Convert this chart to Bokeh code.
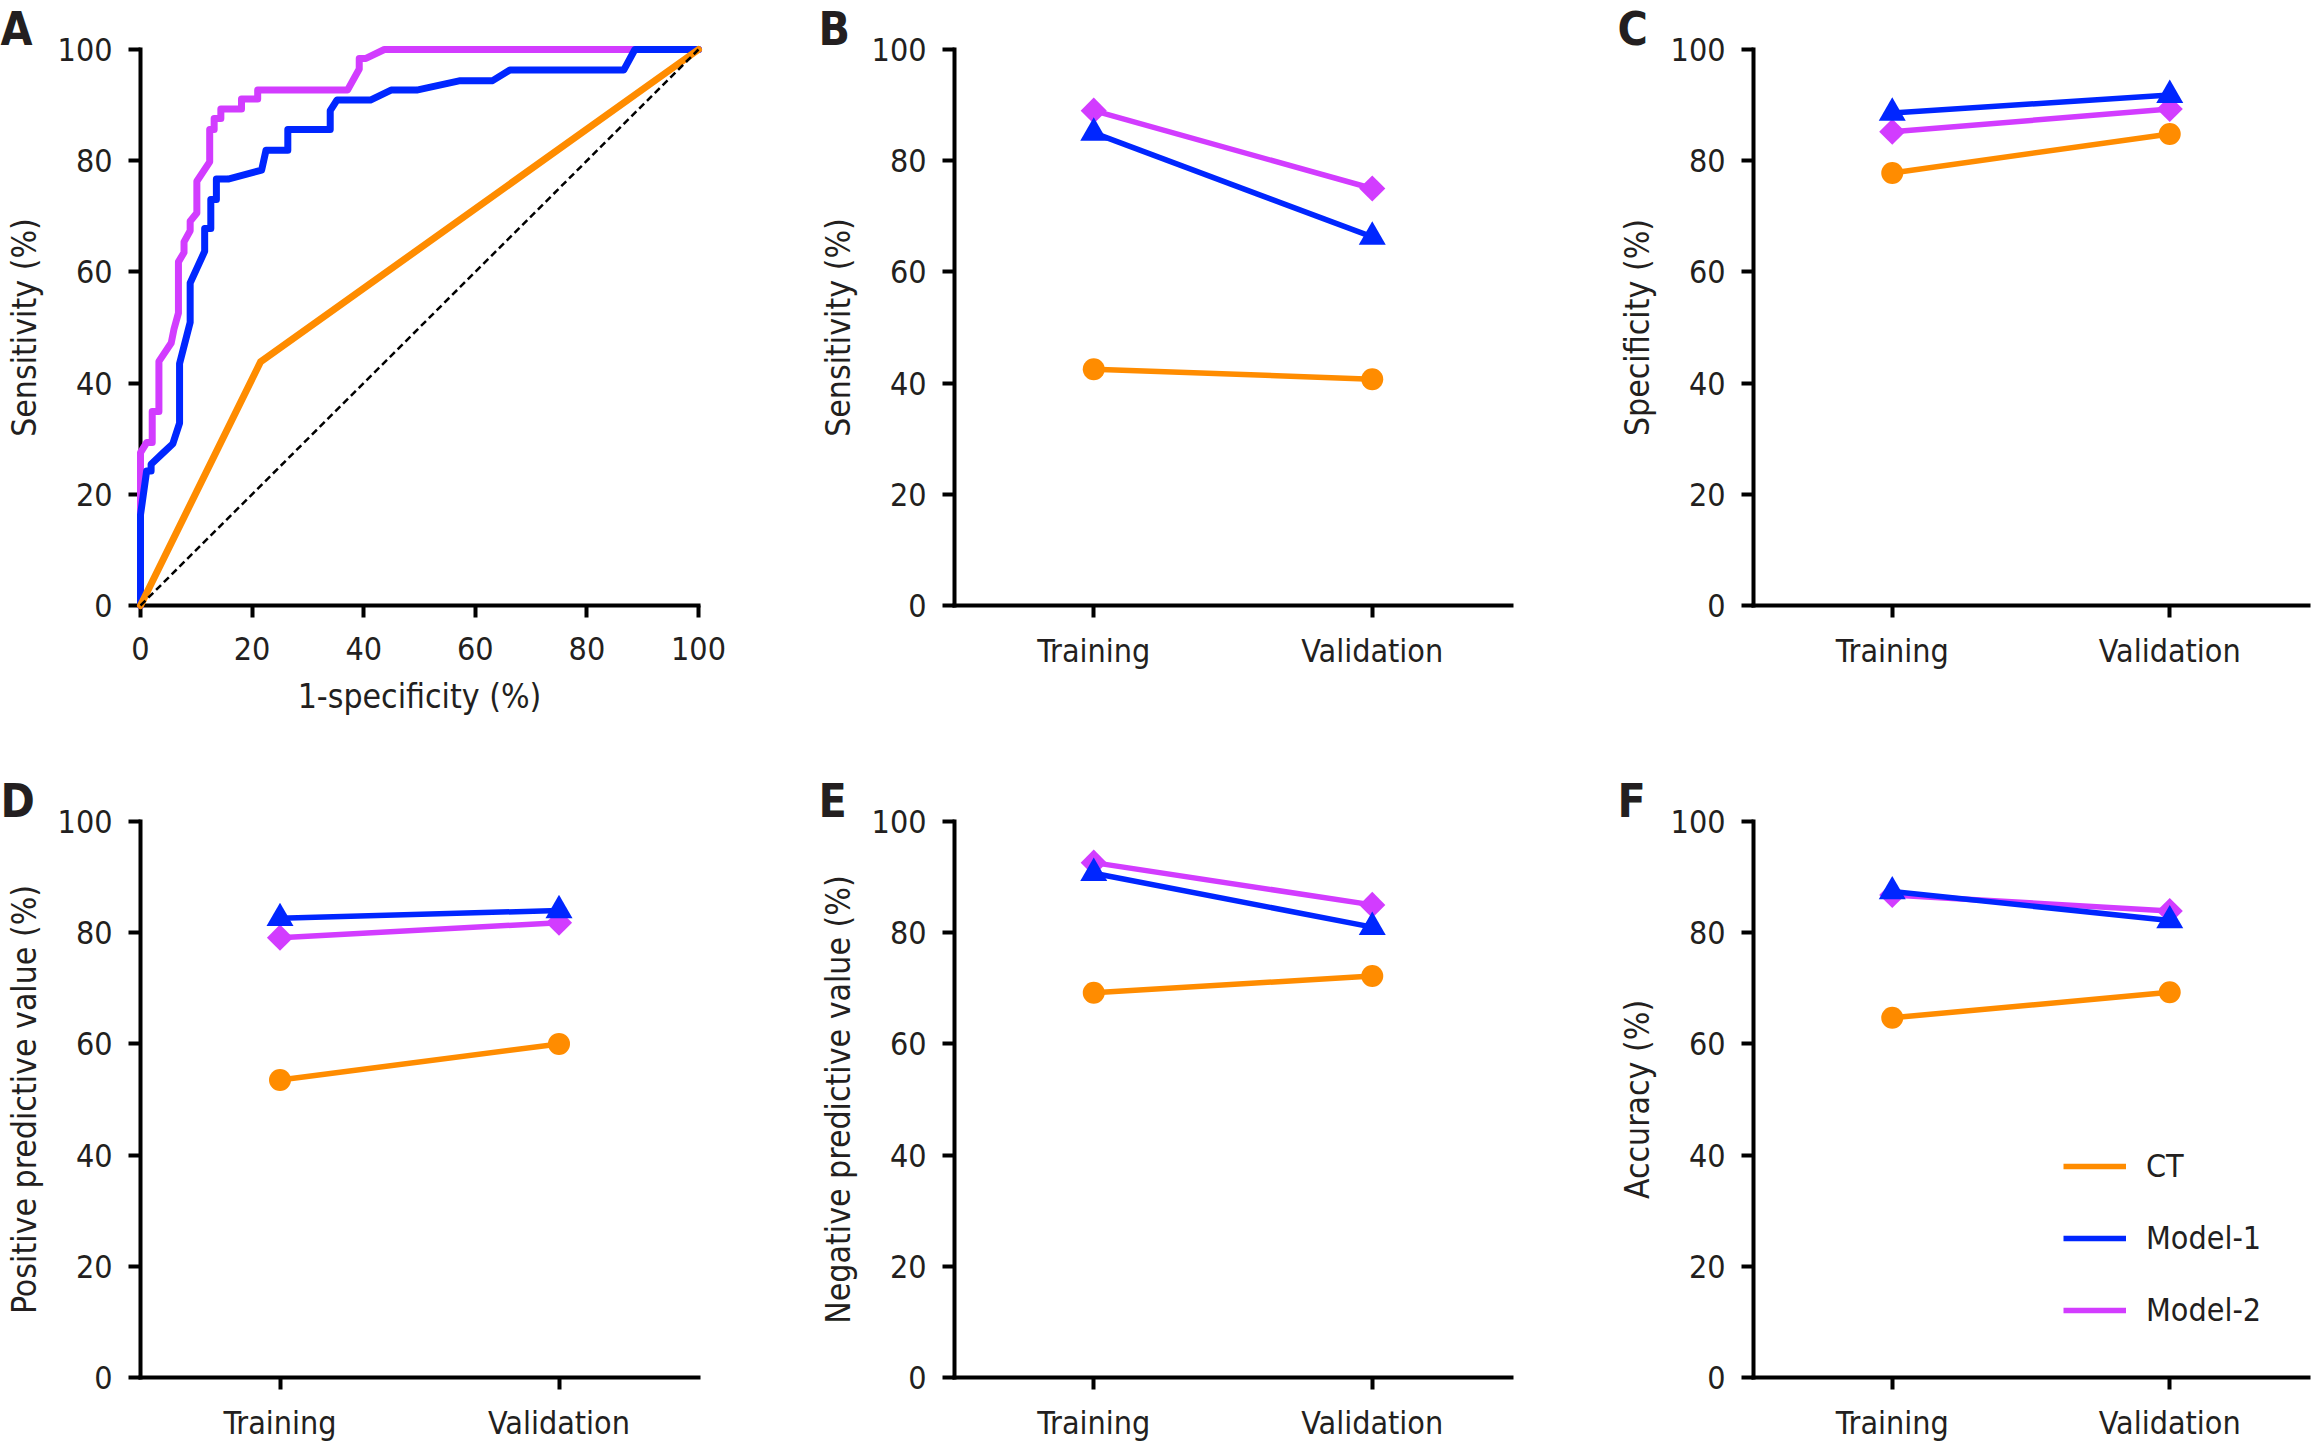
from bokeh.plotting import figure
from bokeh.layouts import column, row
from bokeh.models import Range1d, FixedTicker, Legend, LegendItem
from bokeh.core.properties import value
from bokeh.embed import file_html
from bokeh.resources import INLINE

# ---------------- data ----------------
groups = ["Training", "Validation"]
series = ["CT", "Model-1", "Model-2"]
panel_tags = ["A", "B", "C", "D", "E", "F"]
y_ticks = [0, 20, 40, 60, 80, 100]
roc_ticks = [0, 20, 40, 60, 80, 100]

# ROC curves (1-specificity %, sensitivity %)
roc_ct_fpr = [0, 21.5, 100]
roc_ct_tpr = [0, 43.8, 100]

roc_m1_fpr = [0, 0, 1.1, 1.9, 1.9, 4.1, 5.8, 7.0, 7.0, 8.9, 8.9, 11.5, 11.5, 12.6, 12.6,
              13.6, 13.6, 15.7, 21.7, 22.5, 26.4, 26.4, 34.0, 34.0, 35.2, 41.2, 44.9,
              49.5, 57.3, 63.1, 66.2, 86.6, 88.6, 100]
roc_m1_tpr = [0, 16.3, 24.2, 24.2, 25.4, 27.5, 29.1, 32.8, 43.5, 50.9, 58.0, 63.7, 67.8,
              67.8, 73.0, 73.0, 76.7, 76.7, 78.3, 81.9, 81.9, 85.6, 85.6, 89.0, 90.9,
              90.9, 92.7, 92.7, 94.4, 94.4, 96.3, 96.3, 100, 100]

roc_m2_fpr = [0, 0, 1.1, 2.1, 2.1, 3.3, 3.3, 5.5, 6.0, 6.8, 6.8, 7.8, 7.8, 8.9, 8.9, 10.1,
              10.1, 12.4, 12.4, 13.2, 13.2, 14.4, 14.4, 18.1, 18.1, 21.0, 21.0, 37.1,
              39.2, 39.2, 40.4, 43.7, 100]
roc_m2_tpr = [0, 27.5, 29.3, 29.3, 34.9, 34.9, 43.9, 47.2, 49.7, 52.6, 61.8, 63.5, 65.4,
              67.4, 69.1, 70.6, 76.3, 79.8, 85.6, 85.6, 87.6, 87.6, 89.3, 89.3, 91.1,
              91.1, 92.7, 92.7, 96.5, 98.4, 98.4, 100, 100]

# Diagnostic metrics (%) for Training / Validation
sens_ct = [42.5, 40.7]
sens_m1 = [85.0, 66.3]
sens_m2 = [89.0, 75.0]

spec_ct = [77.8, 84.8]
spec_m1 = [88.6, 91.8]
spec_m2 = [85.2, 89.3]

ppv_ct = [53.5, 60.0]
ppv_m1 = [82.6, 84.0]
ppv_m2 = [79.1, 81.8]

npv_ct = [69.2, 72.2]
npv_m1 = [90.7, 81.0]
npv_m2 = [92.6, 85.0]

acc_ct = [64.7, 69.3]
acc_m1 = [87.4, 82.2]
acc_m2 = [86.8, 83.9]

# ---------------- style ----------------
FONT = "DejaVu Sans Condensed"
INK = "#231f20"
C_CT = "#ff8c00"
C_M1 = "#0026ff"
C_M2 = "#d23cff"
FS = "32px"
FS_LABEL = "33.5px"

# (canvas width, left border, right border) per column
COLS = [(780, 140, 82), (800, 174, 69), (735, 173, 7)]
# (canvas height, top border, bottom border) per row
ROWS = [(723, 49, 118), (723, 98, 69)]


def make_fig(ci, ri, **kw):
    w, bl, br = COLS[ci]
    h, bt, bb = ROWS[ri]
    p = figure(width=w, height=h, min_border_left=bl, min_border_right=br,
               min_border_top=bt, min_border_bottom=bb, output_backend="svg",
               toolbar_location=None, **kw)
    p.outline_line_color = None
    p.grid.visible = False
    p.background_fill_color = "white"
    p.border_fill_color = "white"
    for ax in p.axis:
        ax.axis_line_width = 4
        ax.axis_line_color = "black"
        ax.axis_line_cap = "square"
        ax.major_tick_line_width = 4
        ax.major_tick_line_color = "black"
        ax.major_tick_out = 12
        ax.major_tick_in = 0
        ax.minor_tick_line_color = None
        ax.major_label_text_font = FONT
        ax.major_label_text_font_size = FS
        ax.major_label_text_color = INK
        ax.axis_label_text_font = FONT
        ax.axis_label_text_font_size = FS_LABEL
        ax.axis_label_text_font_style = "normal"
        ax.axis_label_text_color = INK
    p.yaxis.ticker = FixedTicker(ticks=y_ticks)
    p.yaxis.major_label_standoff = 16
    p.yaxis.axis_label_standoff = 11
    p.xaxis.major_label_standoff = 14
    p.xaxis.axis_label_standoff = 10
    return p


def frame_width(ci):
    w, bl, br = COLS[ci]
    return w - bl - br


def panel_tag(p, tag, x0, span, frame_w, dx_px=-136):
    # bold panel tag a fixed pixel distance left of the frame, just above y=100;
    # drawn at overlay level so it is not clipped to the frame
    p.text(x=[x0 + dx_px * span / frame_w], y=[103.7], text=[tag],
           text_font=value(FONT), text_font_size=value("46px"),
           text_font_style="bold", text_color=INK, text_baseline="alphabetic",
           text_align="left", level="overlay")


# ---------------- panel A: ROC ----------------
pa = make_fig(0, 0, x_range=Range1d(0, 100), y_range=Range1d(0, 100))
pa.xaxis.ticker = FixedTicker(ticks=roc_ticks)
pa.xaxis.axis_label = "1-specificity (%)"
pa.yaxis.axis_label = "Sensitivity (%)"
pa.xaxis.major_label_standoff = 19
pa.xaxis.axis_label_standoff = 14
roc_style = dict(line_width=7, line_join="round", line_cap="round", level="overlay")
pa.line(roc_m2_fpr, roc_m2_tpr, line_color=C_M2, **roc_style)
pa.line(roc_m1_fpr, roc_m1_tpr, line_color=C_M1, **roc_style)
pa.line(roc_ct_fpr, roc_ct_tpr, line_color=C_CT, **roc_style)
pa.line([0, 100], [0, 100], line_color="black", line_width=2.5, line_dash="7 4",
        level="overlay")
panel_tag(pa, panel_tags[0], 0, 100, frame_width(0), dx_px=-140)


# ---------------- panels B-F: metrics ----------------
def metric_panel(ci, ri, ylabel, ct, m1, m2, tag, legend=False):
    p = make_fig(ci, ri, x_range=groups, y_range=Range1d(0, 100))
    p.yaxis.axis_label = ylabel
    r2 = p.line(groups, m2, line_color=C_M2, line_width=5.5)
    p.scatter(groups, m2, marker="square", angle=0.7853981634, size=18.5,
              fill_color=C_M2, line_color=None)
    r1 = p.line(groups, m1, line_color=C_M1, line_width=5.5)
    p.scatter(groups, m1, marker="triangle", size=27, fill_color=C_M1, line_color=None)
    r0 = p.line(groups, ct, line_color=C_CT, line_width=5.5)
    p.scatter(groups, ct, marker="circle", size=22, fill_color=C_CT, line_color=None)
    panel_tag(p, tag, 0, len(groups), frame_width(ci),
              dx_px=-140 if ci == 0 else -136)
    if legend:
        items = [LegendItem(label=series[0], renderers=[r0]),
                 LegendItem(label=series[1], renderers=[r1]),
                 LegendItem(label=series[2], renderers=[r2])]
        lg = Legend(items=items, location=(310, 47), orientation="vertical",
                    glyph_width=63, glyph_height=40, label_height=40, spacing=32,
                    label_standoff=20, padding=0, margin=0, border_line_color=None,
                    background_fill_alpha=0, label_text_font=FONT,
                    label_text_font_size=FS, label_text_color=INK)
        p.add_layout(lg)
    return p


pb = metric_panel(1, 0, "Sensitivity (%)", sens_ct, sens_m1, sens_m2, panel_tags[1])
pc = metric_panel(2, 0, "Specificity (%)", spec_ct, spec_m1, spec_m2, panel_tags[2])
pd_ = metric_panel(0, 1, "Positive predictive value (%)", ppv_ct, ppv_m1, ppv_m2,
                   panel_tags[3])
pe = metric_panel(1, 1, "Negative predictive value (%)", npv_ct, npv_m1, npv_m2,
                  panel_tags[4])
pf = metric_panel(2, 1, "Accuracy (%)", acc_ct, acc_m1, acc_m2, panel_tags[5],
                  legend=True)

layout = column(row(pa, pb, pc), row(pd_, pe, pf))

with open("out.html", "w") as f:
    f.write(file_html(layout, INLINE))
